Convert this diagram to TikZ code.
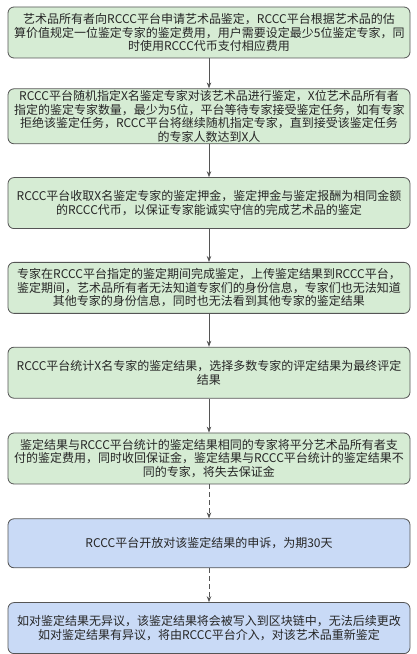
\documentclass[tikz,border=0pt]{standalone}
\usepackage{fontspec}
\setmainfont{Noto Sans CJK SC}
\usepackage{xcolor}
\usetikzlibrary{arrows.meta,positioning}
\definecolor{stepgreen}{RGB}{214,236,212}
\definecolor{stepblue}{RGB}{201,218,246}
\definecolor{stepline}{RGB}{85,85,85}
\definecolor{steptext}{RGB}{38,38,38}

\begin{document}
\begin{tikzpicture}[
  box/.style={draw=stepline,line width=0.8pt,rounded corners=6pt,fill=stepgreen,align=center,
    text=steptext,font=\fontsize{12pt}{13.6pt}\selectfont,text width=390pt,
    minimum width=402pt,minimum height=51pt,inner xsep=6pt,inner ysep=1pt},
  bluebox/.style={box,fill=stepblue},
  arr/.style={-{Stealth[length=6pt,width=4.5pt]},draw=stepline,line width=0.8pt},
  node distance=33pt]
\useasboundingbox (0,0) rectangle (417pt,654pt);
\node[box] (apply) at (209pt,621.5pt) {艺术品所有者向RCCC平台申请艺术品鉴定，RCCC平台根据艺术品的估\\算价值规定一位鉴定专家的鉴定费用，用户需要设定最少5位鉴定专家，同\\时使用RCCC代币支付相应费用};
\node[box,below=30pt of apply,minimum height=55pt] (assign) {RCCC平台随机指定X名鉴定专家对该艺术品进行鉴定，X位艺术品所有者\\指定的鉴定专家数量，最少为5位，平台等待专家接受鉴定任务，如有专家\\拒绝该鉴定任务，RCCC平台将继续随机指定专家，直到接受该鉴定任务\\的专家人数达到X人};
\node[box,below=of assign] (deposit) {RCCC平台收取X名鉴定专家的鉴定押金，鉴定押金与鉴定报酬为相同金额\\的RCCC代币，以保证专家能诚实守信的完成艺术品的鉴定};
\node[box,below=of deposit] (appraise) {专家在RCCC平台指定的鉴定期间完成鉴定，上传鉴定结果到RCCC平台，\\鉴定期间，艺术品所有者无法知道专家们的身份信息，专家们也无法知道\\其他专家的身份信息，同时也无法看到其他专家的鉴定结果};
\node[box,below=of appraise] (tally) {RCCC平台统计X名专家的鉴定结果，选择多数专家的评定结果为最终评定\\结果};
\node[box,below=34pt of tally] (settle) {鉴定结果与RCCC平台统计的鉴定结果相同的专家将平分艺术品所有者支\\付的鉴定费用，同时收回保证金，鉴定结果与RCCC平台统计的鉴定结果不\\同的专家，将失去保证金};
\node[bluebox,below=34pt of settle,minimum height=49pt] (appeal) {RCCC平台开放对该鉴定结果的申诉，为期30天};
\node[bluebox,below=34pt of appeal] (record) {如对鉴定结果无异议，该鉴定结果将会被写入到区块链中，无法后续更改\\如对鉴定结果有异议，将由RCCC平台介入，对该艺术品重新鉴定};
\draw[arr] (apply)--(assign);
\draw[arr] (assign)--(deposit);
\draw[arr] (deposit)--(appraise);
\draw[arr] (appraise)--(tally);
\draw[arr] (tally)--(settle);
\draw[arr,dash pattern=on 5pt off 3pt] (settle)--(appeal);
\draw[arr,dash pattern=on 5pt off 3pt] (appeal)--(record);
\end{tikzpicture}
\end{document}
